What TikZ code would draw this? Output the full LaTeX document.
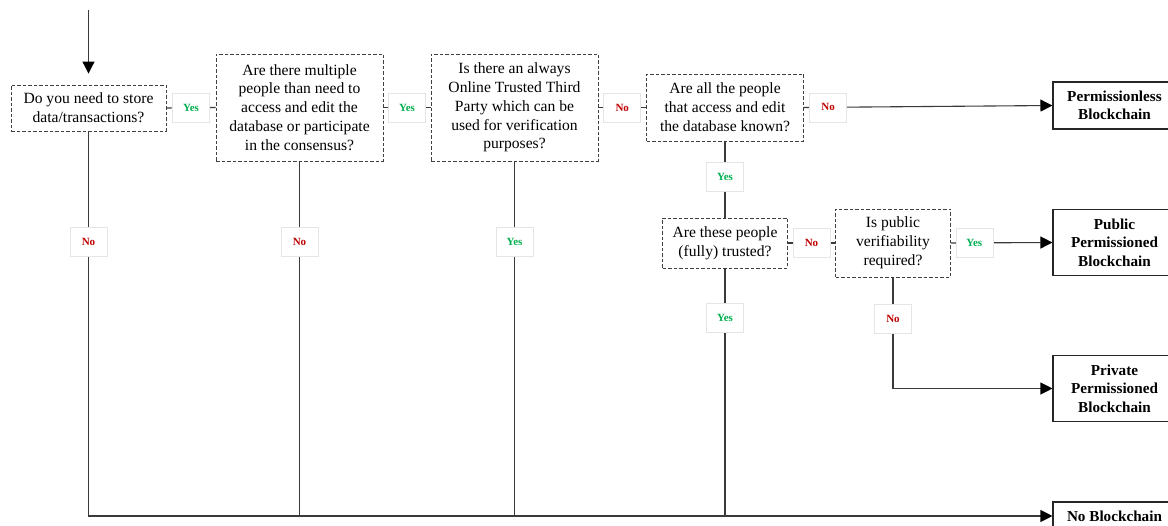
\documentclass[tikz,border=0pt]{standalone}
\usepackage{fontspec}
\setmainfont{Liberation Serif}
\usetikzlibrary{arrows.meta}
\definecolor{yesgreen}{HTML}{00B050}
\definecolor{nored}{HTML}{C00000}
\definecolor{linegray}{HTML}{3A3A3A}

\begin{document}
\begin{tikzpicture}[x=1pt,y=-1pt,
  question/.style={draw=black!75, dash pattern=on 3.5pt off 2pt, line width=0.9pt,
    align=center, inner sep=0pt, font=\fontsize{15.6}{18.8}\selectfont},
  outcome/.style={draw=black!85, line width=1.1pt, align=center, inner sep=0pt,
    minimum width=123pt, font=\fontsize{15.2}{18.4}\selectfont\bfseries},
  flow/.style={draw=linegray, line width=1.1pt},
  arrow/.style={flow, -{Triangle[length=12pt,width=12pt,color=black,fill=black]}},
  tag/.style={fill=white, draw=black!10, line width=0.6pt, minimum width=37pt,
    minimum height=29pt, inner sep=0pt, font=\fontsize{11}{12}\selectfont\bfseries},
  yestag/.style={tag, text=yesgreen},
  notag/.style={tag, text=nored}]

\useasboundingbox (0,0) rectangle (1168,526);

% decision boxes
\node[question, minimum width=155pt, minimum height=46pt] (q1) at (88.5,108)
  {Do you need to store\\data/transactions?};
\node[question, minimum width=167pt, minimum height=107pt] (q2) at (299.5,107.5)
  {Are there multiple\\people than need to\\access and edit the\\database or participate\\in the consensus?};
\node[question, minimum width=167pt, minimum height=107pt] (q3) at (514.5,107.5)
  {Is there an always\\Online Trusted Third\\Party which can be\\used for verification\\purposes?};
\node[question, minimum width=157pt, minimum height=67pt] (q4) at (725,107.5)
  {Are all the people\\that access and edit\\the database known?};
\node[question, minimum width=125pt, minimum height=50pt] (q5) at (725,243)
  {Are these people\\(fully) trusted?};
\node[question, minimum width=115pt, minimum height=68pt] (q6) at (893,243)
  {Is public\\verifiability\\required?};

% outcomes
\node[outcome, minimum height=47pt] (perm) at (1114.5,105.5) {Permissionless\\Blockchain};
\node[outcome, minimum height=66pt] (pub) at (1114.5,242.5) {Public\\Permissioned\\Blockchain};
\node[outcome, minimum height=66pt] (priv) at (1114.5,388.5) {Private\\Permissioned\\Blockchain};
\node[outcome, minimum height=28pt] (none) at (1114.5,516) {No Blockchain};

% connectors
\coordinate (entry) at (88.5,10);
\draw[arrow, shorten >=11pt] (entry) -- (q1.north);

\draw[flow] (q1.east) -- (q2.west) node[yestag, midway] {Yes};
\draw[flow] (q2.east) -- (q3.west) node[yestag, midway] {Yes};
\draw[flow] (q3.east) -- (q4.west) node[notag, midway] {No};
\draw[arrow] (q4.east) -- (perm.west) node[notag, pos=0.097] {No};
\draw[flow] (q4.south) -- (q5.north) node[yestag, pos=0.46] {Yes};
\draw[flow] (q5.east) -- (q6.west) node[notag, midway] {No};
\draw[arrow] (q6.east) -- (pub.west) node[yestag, pos=0.23] {Yes};
\draw[arrow] (q6.south) |- (priv.west) node[notag, pos=0.185] {No};

\draw[arrow] (q1.south) |- (none.west) node[notag, pos=0.144] {No};
\draw[flow] (q2.south) -- (q2.south |- none.west) node[notag, pos=0.228] {No};
\draw[flow] (q3.south) -- (q3.south |- none.west) node[yestag, pos=0.228] {Yes};
\draw[flow] (q5.south) -- (q5.south |- none.west) node[yestag, pos=0.2] {Yes};
\end{tikzpicture}
\end{document}
